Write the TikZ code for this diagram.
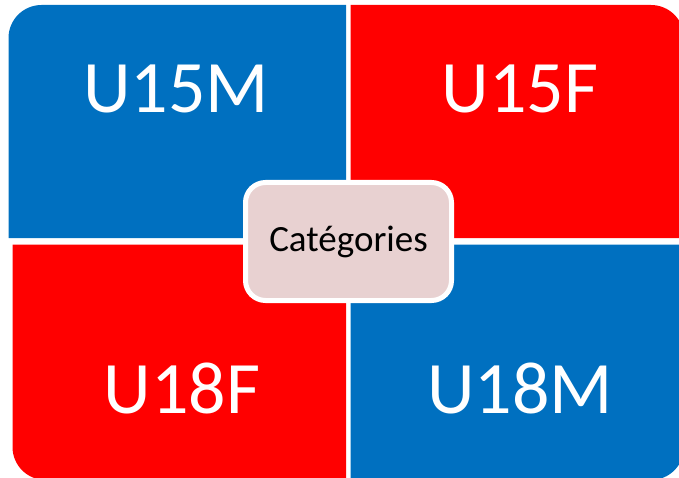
\documentclass[tikz,border=0pt]{standalone}
\usepackage{fontspec}
\setmainfont{Carlito}
\usetikzlibrary{positioning}
\definecolor{quadblue}{RGB}{0,112,192}
\definecolor{quadred}{RGB}{255,0,0}
\definecolor{catpink}{RGB}{232,209,209}
\tikzset{
	quad label/.style={text=white,font=\fontsize{74}{88}\selectfont,inner sep=0pt,anchor=base},
	cat box/.style={draw=white,line width=5pt,fill=catpink,rounded corners=20pt,
		minimum width=206pt,minimum height=118pt,inner sep=0pt,
		font=\fontsize{37}{44}\selectfont},
	qr/.store in=\qr,
	qr=33
}

\begin{document}
\begin{tikzpicture}[x=1pt,y=1pt]
   \useasboundingbox (0,0) rectangle (679,477);
   \clip (0,0) rectangle (679,477);
   % four quadrants, outer corner rounded
   \fill[quadblue] (346,239) -- (8.5,239) -- (8.5,472-\qr) arc[start angle=180,end angle=90,radius=\qr] -- (346,472) -- cycle;
   \fill[quadred] (350.5,239) -- (350.5,472) -- (684-\qr,472) arc[start angle=90,end angle=0,radius=\qr] -- (684,239) -- cycle;
   \fill[quadred] (12.5,232.5) -- (346,232.5) -- (346,-3) -- (12.5+\qr,-3) arc[start angle=270,end angle=180,radius=\qr] -- cycle;
   \fill[quadblue] (350.5,232.5) -- (684,232.5) -- (684,-3+\qr) arc[start angle=0,end angle=-90,radius=\qr] -- (350.5,-3) -- cycle;
   \node[quad label] (u15m) at (176,364) {U15M};
   \node[quad label] (u15f) at (520,364) {U15F};
   \node[quad label] (u18f) at (182,64) {U18F};
   \node[quad label] (u18m) at (520,64) {U18M};
   \node[cat box] (cat) at (348.5,235.5) {Catégories};
\end{tikzpicture}
\end{document}
